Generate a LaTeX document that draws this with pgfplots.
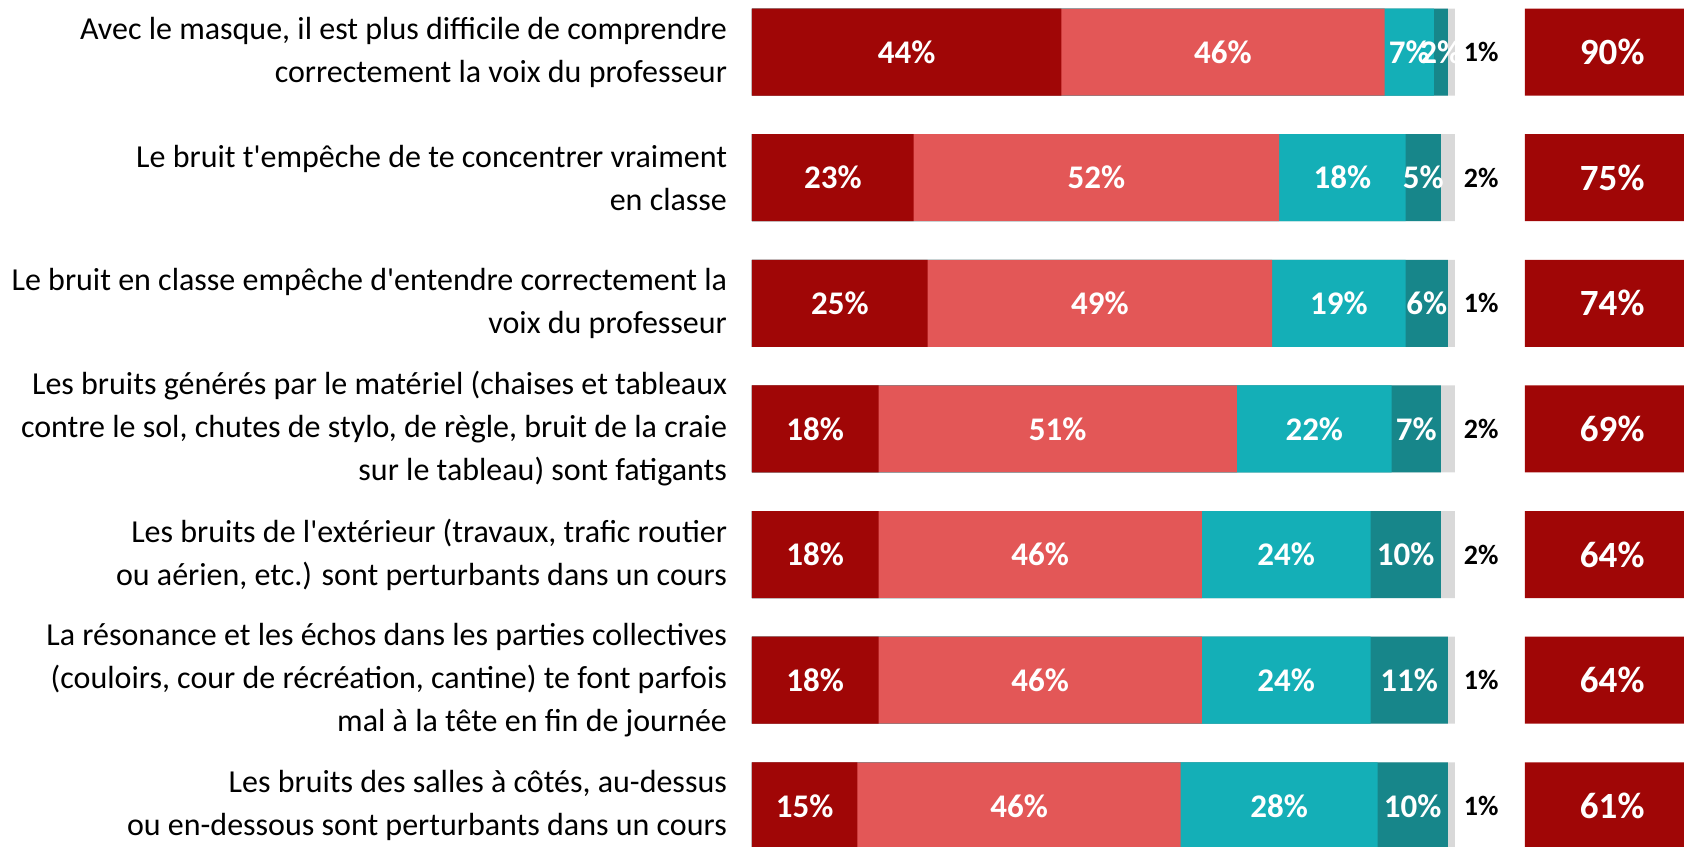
\documentclass[border=0pt]{standalone}
\usepackage{pgfplots}
\pgfplotsset{compat=1.18}
\usepackage{pgfplotstable}
\usepackage{fontspec}
\setmainfont{Carlito}
\definecolor{cA}{HTML}{A00606}
\definecolor{cB}{HTML}{E35757}
\definecolor{cC}{HTML}{14AFB7}
\definecolor{cD}{HTML}{17868A}
\definecolor{cE}{HTML}{D9D9D9}
\pgfplotstableread{
y a b c d e t
0 44 46 7 2 1 90
1 23 52 18 5 2 75
2 25 49 19 6 1 74
3 18 51 22 7 2 69
4 18 46 24 10 2 64
5 18 46 24 11 1 64
6 15 46 28 10 1 61
}\data
\begin{document}
\begin{tikzpicture}
\pgfplotsset{
  common/.style={scale only axis, width=466pt, height=423pt,
    ymin=-0.414, ymax=6.32, y dir=reverse},
  lab/.style={draw=none, mark=none, nodes near coords={\pgfmathprintnumber[assume math mode=true]{\pgfplotspointmeta}\%},
    point meta=explicit,
    every node near coord/.append style={anchor=center, text=white, font=\bfseries\fontsize{16.5}{16.5}\selectfont, inner sep=0pt}},
}
\begin{axis}[common, xmin=0, xmax=132.6,
  axis line style={draw=none}, major tick length=0pt, xtick=\empty,
  ytick={0,...,6},
  yticklabels={{Avec le masque, il est plus difficile de comprendre\\correctement la voix du professeur},
    {Le bruit t\textquotesingle empêche de te concentrer vraiment\\en classe},
    {Le bruit en classe empêche d\textquotesingle entendre correctement la\\voix du professeur},
    {Les bruits générés par le matériel (chaises et tableaux\\contre le sol, chutes de stylo, de règle, bruit de la craie\\sur le tableau) sont fatigants},
    {Les bruits de l\textquotesingle extérieur (travaux, trafic routier\\ou aérien, etc.) sont perturbants dans un cours},
    {La résonance et les échos dans les parties collectives\\(couloirs, cour de récréation, cantine) te font parfois\\mal à la tête en fin de journée},
    {Les bruits des salles à côtés, au-dessus\\ou en-dessous sont perturbants dans un cours}},
  yticklabel style={align=right, font=\fontsize{16}{21.5}\selectfont, xshift=-9pt},
  bar width=43.5pt]
\addplot[xbar, fill=cE, draw=none, nodes near coords={\pgfmathprintnumber[assume math mode=true]{\pgfplotspointmeta}\%}, point meta=explicit,
  every node near coord/.append style={anchor=west, font=\bfseries\fontsize{14}{14}\selectfont, text=black, xshift=1pt}]
  table[x expr=\thisrow{a}+\thisrow{b}+\thisrow{c}+\thisrow{d}+\thisrow{e}, y=y, meta=e]{\data};
\addplot[xbar, fill=cD, draw=none] table[x expr=\thisrow{a}+\thisrow{b}+\thisrow{c}+\thisrow{d}, y=y]{\data};
\addplot[xbar, fill=cC, draw=none] table[x expr=\thisrow{a}+\thisrow{b}+\thisrow{c}, y=y]{\data};
\addplot[xbar, fill=cB, draw=none] table[x expr=\thisrow{a}+\thisrow{b}, y=y]{\data};
\addplot[xbar, fill=cA, draw=none] table[x=a, y=y]{\data};
\addplot[lab] table[x expr=\thisrow{a}/2, y=y, meta=a]{\data};
\addplot[lab] table[x expr=\thisrow{a}+\thisrow{b}/2, y=y, meta=b]{\data};
\addplot[lab] table[x expr=\thisrow{a}+\thisrow{b}+\thisrow{c}/2, y=y, meta=c]{\data};
\addplot[lab] table[x expr=\thisrow{a}+\thisrow{b}+\thisrow{c}+\thisrow{d}/2, y=y, meta=d]{\data};
\end{axis}
\begin{axis}[common, xmin=-109.8, xmax=22.6, hide axis, bar width=43.5pt]
\addplot[xbar, fill=cA, draw=none] table[x expr=24.8, y=y]{\data};
\addplot[lab, every node near coord/.append style={font=\bfseries\fontsize{18.5}{18.5}\selectfont}] table[x expr=12.4, y=y, meta=t]{\data};
\end{axis}
\pgfresetboundingbox
\path (current axis.south west) ++(-376pt,0pt) rectangle (current axis.north east);
\end{tikzpicture}
\end{document}
